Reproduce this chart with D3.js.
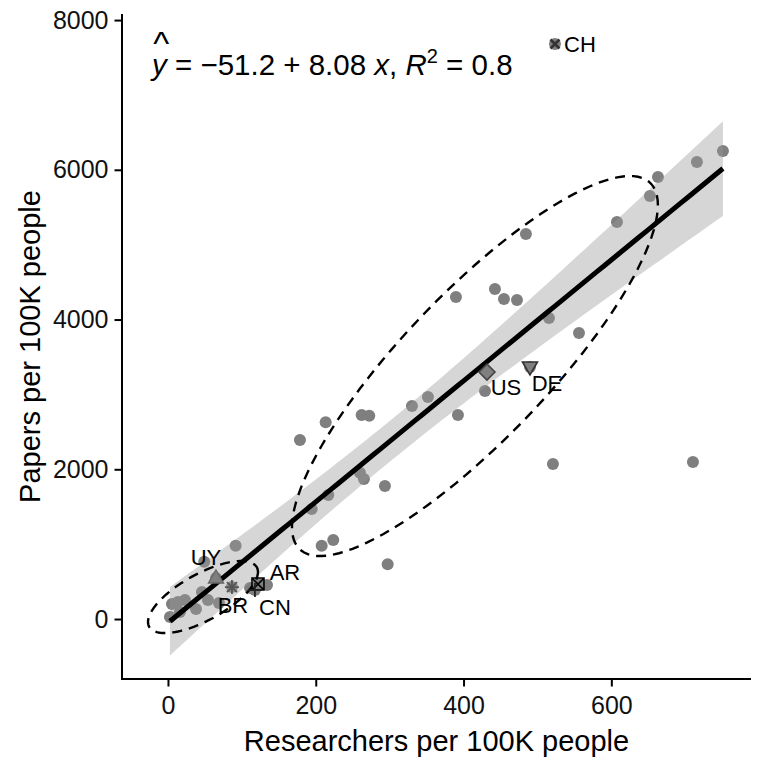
<!DOCTYPE html>
<html><head><meta charset="utf-8">
<script src="https://cdn.jsdelivr.net/npm/d3@7"></script>
<style>
body{margin:0;background:#fff}
svg{display:block}
text{font-family:"Liberation Sans",Arial,Helvetica,sans-serif}
</style>
</head><body><svg id="chart" width="757" height="765"></svg>
<script>
// ---------- data ----------
const researchers = [751.0,715.8,663.1,652.2,607.6,484.4,389.7,442.5,454.7,472.3,515.6,556.2,431.7,489.9,429.0,351.8,330.2,392.4,521.0,710.4,293.6,178.6,213.4,262.1,272.4,259.8,265.2,216.9,194.5,223.7,208.0,297.3,91.6,49.1,523.7,65.0,86.6,121.8,117.7,2.7,5.4,13.5,23.0,16.2,37.9,54.1,46.0,69.0,111.0,134.0];
const papers      = [6251,6104,5904,5650,5303,5142,4301,4408,4274,4261,4020,3820,3299,3366,3045,2965,2845,2725,2070,2097,1776,2391,2627,2725,2715,1954,1870,1656,1469,1055,979,731,979,765,7680,548,427,467,387,27,200,227,254,93,134,254,361,214,414,454];
const countryCode = ["","","","","","","","","","","","","US","DE","","","","","","","","","","","","","","","","","","","","","CH","UY","BR","CN","AR","","","","","","","","","","",""];
const hlCountries = ["CH","US","DE","UY","AR","BR","CN"];
const hlShapes    = ["cross","diamond","triangleDown","triangleUp","plus","asterisk","squareCross"];

const xTicks = [0,200,400,600];
const yTicks = [0,2000,4000,6000,8000];
const xDomain = [-62.2, 789];
const yDomain = [-801, 8081];

const fitCoef = [-51.2, 8.08];   // intercept, slope
const fitR2 = [0.8];

// stat_ellipse summaries (data units): centre, half-extent in x and y, correlation
const ellipseCx  = [47.4, 415.4];
const ellipseCy  = [294, 3379];
const ellipseRx  = [74.4, 247.6];
const ellipseRy  = [481, 2538];
const ellipseRho = [0.694, 0.847];

const xTitle = "Researchers per 100K people";
const yTitle = "Papers per 100K people";

// ---------- layout / style ----------
const M = {left:122, right:751, top:14, bottom:679};
const labelOffset = {CH:[25,0], US:[19,15], DE:[17,16], UY:[-10,-21], AR:[30,-18], BR:[1,18], CN:[17,23]};
const grey = "#7f7f7f";

const svg = d3.select("#chart");
const x = d3.scaleLinear().domain(xDomain).range([M.left, M.right]);
const y = d3.scaleLinear().domain(yDomain).range([M.bottom, M.top]);

const pts = researchers.map((r,i)=>({x:r, y:papers[i], c:countryCode[i]}));

// points
svg.append("g").selectAll("circle").data(pts).join("circle")
  .attr("cx",d=>x(d.x)).attr("cy",d=>y(d.y)).attr("r",6).attr("fill",grey);

// regression band (computed from the data residuals around the fitted line)
const n = pts.length;
const xbar = d3.mean(pts,d=>d.x);
const Sxx = d3.sum(pts,d=>(d.x-xbar)**2);
const fitY = v => fitCoef[0] + fitCoef[1]*v;
const sse = d3.sum(pts,d=>(d.y-fitY(d.x))**2);
const s = Math.sqrt(sse/(n-2));
const df = n-2, z = 1.959964;
const tq = z + (z**3+z)/(4*df) + (5*z**5+16*z**3+3*z)/(96*df*df);
const [xmin,xmax] = d3.extent(pts,d=>d.x);
const band = d3.range(80).map(i=>{
  const g = xmin + (xmax-xmin)*i/79;
  const se = s*Math.sqrt(1/n + (g-xbar)**2/Sxx);
  return {x:g, y:fitY(g), lo:fitY(g)-tq*se, hi:fitY(g)+tq*se};
});
svg.append("path").datum(band)
  .attr("d", d3.area().x(d=>x(d.x)).y0(d=>y(d.lo)).y1(d=>y(d.hi)))
  .attr("fill","#999999").attr("fill-opacity",0.4);
svg.append("path").datum(band)
  .attr("d", d3.line().x(d=>x(d.x)).y(d=>y(d.y)))
  .attr("fill","none").attr("stroke","#000").attr("stroke-width",5);

// ellipses
ellipseCx.forEach((cx,i)=>{
  const r = ellipseRho[i], q = Math.sqrt(1-r*r);
  const ring = d3.range(120).map(k=>{
    const t = 2*Math.PI*k/120;
    return [cx + ellipseRx[i]*Math.cos(t),
            ellipseCy[i] + ellipseRy[i]*(r*Math.cos(t) + q*Math.sin(t))];
  });
  svg.append("path").datum(ring)
    .attr("d", d3.line().x(d=>x(d[0])).y(d=>y(d[1])).curve(d3.curveLinearClosed))
    .attr("fill","none").attr("stroke","#000").attr("stroke-width",2.4)
    .attr("stroke-dasharray","10,7");
});

// highlighted markers
const shapePath = {
  cross: "M-4.5,-4.5L4.5,4.5M-4.5,4.5L4.5,-4.5",
  diamond: "M0,-8L8,0L0,8L-8,0Z",
  triangleDown: "M-7.5,-5L7.5,-5L0,8Z",
  triangleUp: "M0,-8L7.5,5L-7.5,5Z",
  plus: "M-7,0L7,0M0,-7L0,7",
  asterisk: "M-7,0L7,0M0,-7L0,7M-5,-5L5,5M-5,5L5,-5",
  squareCross: "M-6,-6H6V6H-6ZM-6,-6L6,6M-6,6L6,-6"
};
const shapeStyle = {
  cross: {fill:"none", stroke:"#333", sw:2.6},
  diamond: {fill:grey, stroke:"#444", sw:1.6},
  triangleDown: {fill:grey, stroke:"#333", sw:1.6},
  triangleUp: {fill:grey, stroke:"#666", sw:1.4},
  plus: {fill:"none", stroke:"#222", sw:1.8},
  asterisk: {fill:"none", stroke:"#555", sw:1.8},
  squareCross: {fill:"none", stroke:"#000", sw:1.6}
};
const hl = pts.filter(d=>hlCountries.includes(d.c));
hl.forEach(d=>{
  const sh = hlShapes[hlCountries.indexOf(d.c)];
  const st = shapeStyle[sh];
  svg.append("path").attr("d",shapePath[sh])
    .attr("transform",`translate(${x(d.x)},${y(d.y)})`)
    .attr("fill",st.fill).attr("stroke",st.stroke).attr("stroke-width",st.sw);
});
// labels
svg.append("g").selectAll("text").data(hl).join("text")
  .attr("x",d=>x(d.x)+labelOffset[d.c][0]).attr("y",d=>y(d.y)+labelOffset[d.c][1])
  .attr("dy","0.36em").attr("text-anchor","middle")
  .attr("font-size",22).attr("fill","#000").text(d=>d.c);

// axes
const xAxis = svg.append("g").attr("transform",`translate(0,${M.bottom})`)
  .call(d3.axisBottom(x).tickValues(xTicks).tickSizeOuter(0).tickSize(7.5).tickPadding(10).tickFormat(d3.format("d")));
const yAxis = svg.append("g").attr("transform",`translate(${M.left},0)`)
  .call(d3.axisLeft(y).tickValues(yTicks).tickSizeOuter(0).tickSize(7.5).tickPadding(6).tickFormat(d3.format("d")));
[xAxis,yAxis].forEach(a=>{
  a.select(".domain").attr("stroke","#000").attr("stroke-width",2);
  a.selectAll(".tick line").attr("stroke","#000").attr("stroke-width",2);
  a.selectAll(".tick text").attr("font-size",25).attr("fill","#111")
    .attr("font-family","Liberation Sans, Arial, sans-serif");
});
xAxis.select(".domain").attr("d",`M${M.left-1},0H${M.right}`);
yAxis.select(".domain").attr("d",`M0,${M.top}V${M.bottom+1}`);

// axis titles
svg.append("text").attr("x",(M.left+M.right)/2).attr("y",751)
  .attr("text-anchor","middle").attr("font-size",29).text(xTitle);
svg.append("text").attr("transform",`translate(40,${(M.top+M.bottom)/2}) rotate(-90)`)
  .attr("text-anchor","middle").attr("font-size",29).text(yTitle);

// equation label (hat drawn as a tspan above the italic y)
const eq = svg.append("text").attr("x",152).attr("y",75).attr("font-size",29.5);
eq.append("tspan").attr("font-style","italic").text("y");
eq.append("tspan").attr("font-size",34).attr("dx",-13.5).attr("dy",-20).text("^");
eq.append("tspan").attr("dx",-2.4).attr("dy",20)
  .text(" = \u2212" + Math.abs(fitCoef[0]).toFixed(1) + " + " + fitCoef[1].toFixed(2) + " ");
eq.append("tspan").attr("font-style","italic").text("x");
eq.append("tspan").text(", ");
eq.append("tspan").attr("font-style","italic").text("R");
eq.append("tspan").attr("font-size",20).attr("dy",-12).text("2");
eq.append("tspan").attr("dy",12).text(" = " + fitR2[0]);
</script>
</body></html>
